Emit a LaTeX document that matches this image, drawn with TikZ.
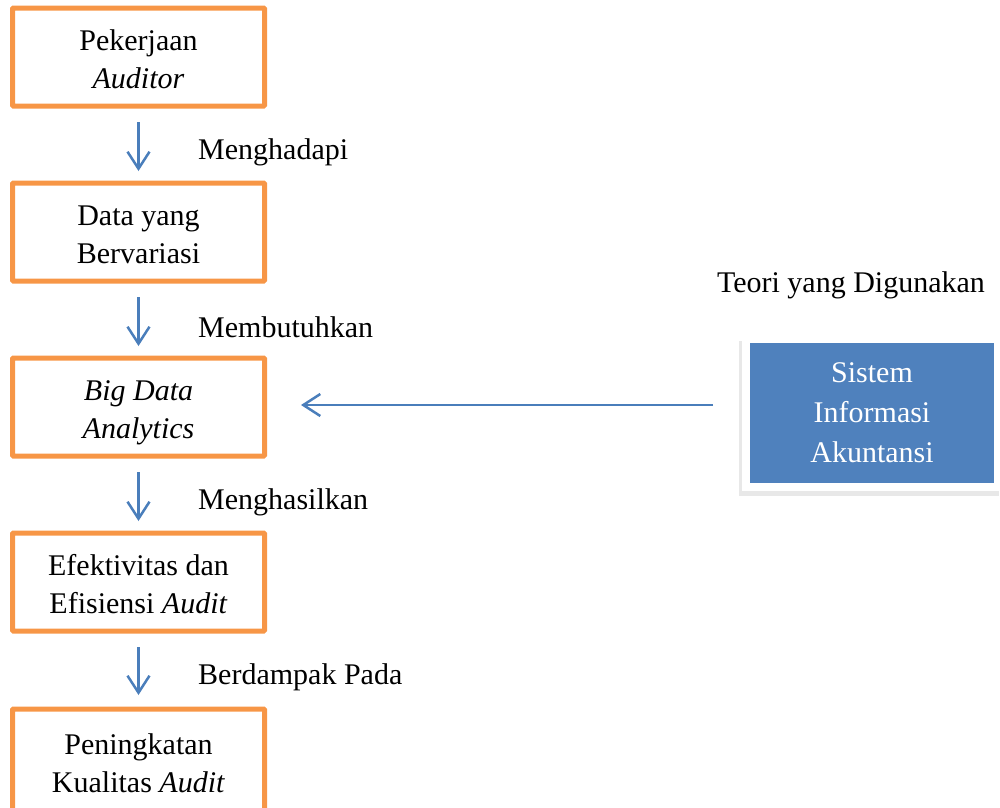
\documentclass[tikz,border=0pt]{standalone}
\usepackage{fontspec}
\setmainfont{Liberation Serif}
\usetikzlibrary{arrows.meta,shapes,positioning,shadows,backgrounds,calc}
\definecolor{boxorange}{HTML}{F79646}
\definecolor{siablue}{HTML}{4F81BD}
\definecolor{flowblue}{HTML}{4A7EBB}
\tikzset{
    stage/.style={
        rectangle,
        draw=boxorange,
        line width=5pt,
        rounded corners=1pt,
        minimum width=252pt,
        minimum height=98pt,
        align=center,
        text height=64pt,
        text depth=2pt,
        font=\fontsize{30}{38}\selectfont,
    },
    theory/.style={
        rectangle,
        fill=siablue,
        text=white,
        minimum width=244pt,
        minimum height=140pt,
        outer sep=0pt,
        align=center,
        font=\fontsize{30}{40}\selectfont,
    },
    verb/.style={
        anchor=west,
        inner sep=0pt,
        font=\fontsize{30}{38}\selectfont,
    },
    flow/.style={
        draw=flowblue,
        line width=2.5pt,
        -{Straight Barb[length=17pt,width=22pt,line width=2.5pt]},
    },
    node distance=175pt,
}

\begin{document}
\begin{tikzpicture}[x=1pt,y=-1pt]
    \useasboundingbox (0,0) rectangle (1000,807);
    \node [stage] at (138.5,57) (B1) {Pekerjaan\\\textit{Auditor}};
    \node [stage,below of=B1] (B2) {Data yang\\Bervariasi};
    \node [stage,below of=B2] (B3) {\textit{Big Data}\\\textit{Analytics}};
    \node [stage,below of=B3] (B4) {Efektivitas dan\\Efisiensi \textit{Audit}};
    \node [stage,below of=B4,yshift=-4pt,minimum height=104pt] (B5) {Peningkatan\\Kualitas \textit{Audit}};
    \node [verb] at (198,152) (L1) {Menghadapi};
    \node [verb] at (198,327) (L2) {Membutuhkan};
    \node [verb] at (198,502) (L3) {Menghasilkan};
    \node [verb] at (198,677) (L4) {Berdampak Pada};
    \node [theory] at (872,413) (SIA) {Sistem\\Informasi\\Akuntansi};
    \node [verb,anchor=center] at (851,285) (T1) {Teori yang Digunakan};
    \begin{scope}[on background layer]
        \fill [white,drop shadow={opacity=0.18,shadow xshift=-3pt,shadow yshift=-5pt}]
            ($(SIA.north west)+(-8,-7)$) rectangle ($(SIA.south east)+(8,8)$);
    \end{scope}
    \draw [flow,shorten <=13.5pt,shorten >=9.5pt] (B1.south) -- (B2.north);
    \draw [flow,shorten <=13.5pt,shorten >=9.5pt] (B2.south) -- (B3.north);
    \draw [flow,shorten <=13.5pt,shorten >=9.5pt] (B3.south) -- (B4.north);
    \draw [flow,shorten <=13.5pt,shorten >=11.5pt] (B4.south) -- (B5.north);
    \coordinate (SIAin) at ([yshift=8pt]SIA.west);
    \draw [flow,shorten <=37pt,shorten >=34pt] (SIAin) -- (SIAin -| B3.east);
\end{tikzpicture}
\end{document}
